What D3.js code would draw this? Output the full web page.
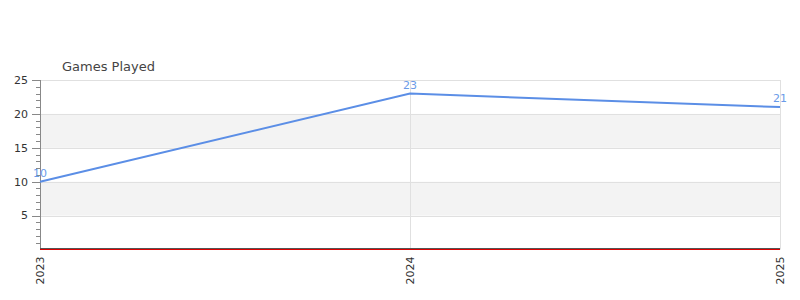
<!DOCTYPE html>
<html>
<head>
<meta charset="utf-8">
<script src="https://cdn.jsdelivr.net/npm/d3@7"></script>
<style>
  body { margin: 0; background: #fff; }
  svg text { font-family: "DejaVu Sans", sans-serif; }
</style>
</head>
<body>
<div id="chart"></div>
<script>
const years = ['2023', '2024', '2025'];
const games = [10, 23, 21];
const yTicks = [5, 10, 15, 20, 25];

const W = 800, H = 300;
const margin = { left: 40, right: 20, top: 80, bottom: 51 };

const svg = d3.select('#chart').append('svg')
  .attr('width', W)
  .attr('height', H);

const x = d3.scalePoint()
  .domain(years)
  .range([margin.left, W - margin.right]);

const y = d3.scaleLinear()
  .domain([0, 25])
  .range([H - margin.bottom + 0.5, margin.top]);

// alternating bands
const bands = [[5, 10], [15, 20]];
svg.append('g').selectAll('rect')
  .data(bands)
  .enter().append('rect')
  .attr('x', margin.left)
  .attr('width', W - margin.right - margin.left)
  .attr('y', d => y(d[1]))
  .attr('height', d => y(d[0]) - y(d[1]))
  .attr('fill', '#f3f3f3');

// horizontal grid
svg.append('g').selectAll('line')
  .data(yTicks)
  .enter().append('line')
  .attr('x1', margin.left)
  .attr('x2', W - margin.right)
  .attr('y1', d => Math.round(y(d)) + 0.5)
  .attr('y2', d => Math.round(y(d)) + 0.5)
  .attr('stroke', '#e0e0e0');

// vertical grid
svg.append('g').selectAll('line')
  .data(years.slice(1))
  .enter().append('line')
  .attr('x1', d => x(d) + 0.5)
  .attr('x2', d => x(d) + 0.5)
  .attr('y1', y(25))
  .attr('y2', y(0))
  .attr('stroke', '#e0e0e0');

// y axis line + ticks
const yAxis = svg.append('g');
yAxis.append('line')
  .attr('x1', margin.left + 0.5).attr('x2', margin.left + 0.5)
  .attr('y1', y(25)).attr('y2', y(0))
  .attr('stroke', '#888');

yAxis.selectAll('line.minor')
  .data(d3.range(1, 26))
  .enter().append('line')
  .attr('class', 'minor')
  .attr('x1', d => d % 5 === 0 ? margin.left - 8 : margin.left - 4)
  .attr('x2', margin.left)
  .attr('y1', d => Math.round(y(d)) + 0.5)
  .attr('y2', d => Math.round(y(d)) + 0.5)
  .attr('stroke', '#888');

yAxis.selectAll('text')
  .data(yTicks)
  .enter().append('text')
  .attr('x', margin.left - 12)
  .attr('y', d => y(d))
  .attr('dy', '0.35em')
  .attr('text-anchor', 'end')
  .attr('font-size', 11)
  .attr('fill', '#333')
  .text(d => d);

// baseline (dark over red)
svg.append('line')
  .attr('x1', margin.left).attr('x2', W - margin.right)
  .attr('y1', y(0) - 1).attr('y2', y(0) - 1)
  .attr('stroke', '#555');
svg.append('line')
  .attr('x1', margin.left).attr('x2', W - margin.right)
  .attr('y1', y(0)).attr('y2', y(0))
  .attr('stroke', '#d00');

// x labels
svg.append('g').selectAll('text')
  .data(years)
  .enter().append('text')
  .attr('transform', d => `translate(${x(d) + 4},${y(0) + 7}) rotate(-90)`)
  .attr('text-anchor', 'end')
  .attr('font-size', 11)
  .attr('fill', '#333')
  .text(d => d);

// line
const line = d3.line()
  .x((d, i) => x(years[i]))
  .y(d => y(d));

svg.append('path')
  .datum(games)
  .attr('d', line)
  .attr('fill', 'none')
  .attr('stroke', '#5b8ee6')
  .attr('stroke-width', 2);

// value labels
svg.append('g').selectAll('text')
  .data(games)
  .enter().append('text')
  .attr('x', (d, i) => x(years[i]))
  .attr('y', d => y(d) - 5)
  .attr('text-anchor', 'middle')
  .attr('font-size', 11)
  .attr('fill', '#6a9be8')
  .text(d => d);

// title
svg.append('text')
  .attr('x', 62)
  .attr('y', 71)
  .attr('font-size', 13)
  .attr('fill', '#444')
  .text('Games Played');
</script>
</body>
</html>
